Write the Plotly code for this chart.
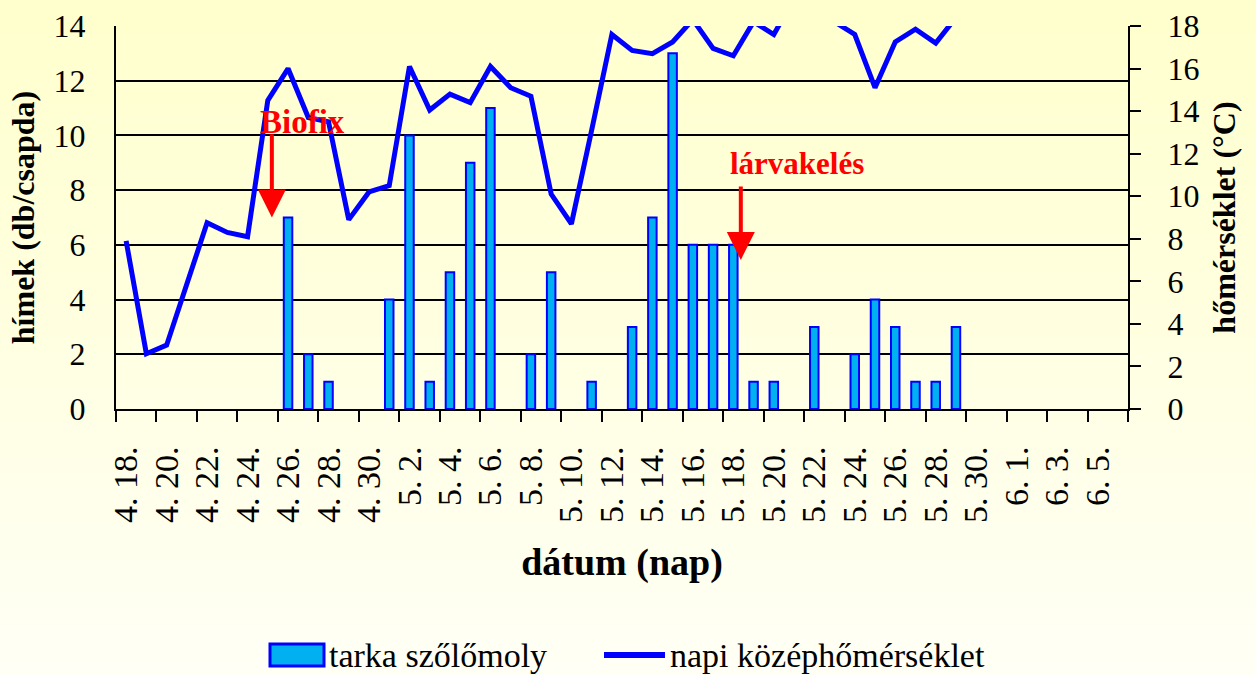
import pandas as pd
import plotly.graph_objects as go

# ---- data ----
dates = pd.date_range("2000-04-18", "2000-06-06", freq="D")
date_labels = [f"{d.month}. {d.day}." for d in dates]

# male moths per trap (tarka szőlőmoly), index-aligned to date_labels (None = no catch)
moth_counts = [None, None, None, None, None, None, None, None, 7, 2,
               1, None, None, 4, 10, 1, 5, 9, 11, None,
               2, 5, None, 1, None, 3, 7, 13, 6, 6,
               6, 1, 1, None, 3, None, 2, 4, 3, 1,
               1, 3, None, None, None, None, None, None, None, None]

# daily mean temperature (°C)
mean_temp = [7.9, 2.6, 3.0, 5.9, 8.75, 8.3, 8.1, 14.5, 16.0, 13.7,
             13.5, 8.9, 10.2, 10.5, 16.1, 14.05, 14.8, 14.4, 16.1, 15.1,
             14.7, 10.1, 8.7, 13.1, 17.6, 16.85, 16.7, 17.25, 18.3, 16.95,
             16.6, 18.2, 17.6, 19.3, 19.5, 18.2, 17.6, 15.1, 17.25, 17.85,
             17.2, 18.4, None, None, None, None, None, None, None, None]

series_names = ["tarka szőlőmoly", "napi középhőmérséklet"]

x_idx = list(range(len(date_labels)))
label_idx = x_idx[::2]
label_text = date_labels[::2]
tick_bounds = [i - 0.5 for i in x_idx[::2]] + [x_idx[-1] + 0.5]

FONT = "Liberation Serif, Times New Roman, serif"
BAR_FILL, BLUE, RED = "#00B0F0", "#0000FF", "#FF0000"

fig = go.Figure()
fig.add_trace(go.Bar(
    x=x_idx, y=moth_counts, name=series_names[0], width=0.42,
    marker=dict(color=BAR_FILL, line=dict(color=BLUE, width=2)),
    yaxis="y", showlegend=False,
))
fig.add_trace(go.Scatter(
    x=x_idx, y=mean_temp, name=series_names[1], mode="lines",
    line=dict(color=BLUE, width=5), yaxis="y2", connectgaps=False, showlegend=False,
))

# geometry (pixels)
W, H = 1256, 675
ml, mr, mt, mb = 116, 128, 26, 266
pw, ph = W - ml - mr, H - mt - mb


def px_x(p):
    return (p - ml) / pw


def px_y(p):
    return (H - mb - p) / ph


# background gradient bands
shapes = []
nb = 40
top_c, bot_c = (255, 255, 204), (255, 255, 246)
for k in range(nb):
    f = (k + 0.5) / nb
    c = tuple(round(top_c[j] + (bot_c[j] - top_c[j]) * f) for j in range(3))
    shapes.append(dict(
        type="rect", xref="paper", yref="paper", layer="below",
        x0=px_x(0), x1=px_x(W),
        y0=px_y((k + 1) * H / nb) - 0.001, y1=px_y(k * H / nb),
        fillcolor="rgb(%d,%d,%d)" % c, line=dict(width=0),
    ))

# legend (drawn manually to match the swatch sizes)
leg_y = 655
shapes.append(dict(type="rect", xref="paper", yref="paper", layer="above",
                   x0=px_x(270), x1=px_x(324), y0=px_y(666), y1=px_y(644),
                   fillcolor=BAR_FILL, line=dict(color=BLUE, width=3)))
shapes.append(dict(type="line", xref="paper", yref="paper", layer="above",
                   x0=px_x(604), x1=px_x(665), y0=px_y(leg_y), y1=px_y(leg_y),
                   line=dict(color=BLUE, width=6)))

annotations = [
    dict(x=px_x(327), y=px_y(leg_y), xref="paper", yref="paper", xanchor="left",
         yanchor="middle", text=series_names[0], showarrow=False,
         font=dict(family=FONT, size=34, color="black")),
    dict(x=px_x(668), y=px_y(leg_y), xref="paper", yref="paper", xanchor="left",
         yanchor="middle", text=series_names[1], showarrow=False,
         font=dict(family=FONT, size=34, color="black")),
    dict(x=7.2, y=7.0, xref="x", yref="y", ax=7.2, ay=10.1, axref="x", ayref="y",
         text="", showarrow=True, arrowhead=2, arrowsize=1.4, arrowwidth=4,
         arrowcolor=RED),
    dict(x=8.69, y=10.49, xref="x", yref="y", text="Biofix", showarrow=False,
         font=dict(family=FONT, size=33, color=RED, weight="bold")),
    dict(x=30.37, y=5.45, xref="x", yref="y", ax=30.37, ay=8.19, axref="x", ayref="y",
         text="", showarrow=True, arrowhead=2, arrowsize=1.4, arrowwidth=4,
         arrowcolor=RED),
    dict(x=33.15, y=8.99, xref="x", yref="y", text="lárvakelés", showarrow=False,
         font=dict(family=FONT, size=31, color=RED, weight="bold")),
]

fig.update_layout(
    width=W, height=H,
    margin=dict(l=ml, r=mr, t=mt, b=mb, autoexpand=False),
    paper_bgcolor="#FFFFE6", plot_bgcolor="rgba(0,0,0,0)",
    font=dict(family=FONT, size=32, color="black"),
    shapes=shapes,
    annotations=annotations,
    showlegend=False,
    xaxis=dict(
        range=[-0.5, len(x_idx) - 0.5], tickmode="array", automargin=False,
        tickvals=label_idx, ticktext=label_text, tickangle=-90,
        ticks="", showgrid=False, zeroline=False,
        showline=True, linecolor="black", linewidth=2,
        ticklabelstandoff=22,
        minor=dict(tickmode="array", tickvals=tick_bounds, ticks="outside",
                   ticklen=11, tickwidth=2, tickcolor="black", showgrid=False),
        tickfont=dict(family=FONT, size=34),
        title=dict(text="dátum (nap)", standoff=26,
                   font=dict(family=FONT, size=38, weight="bold")),
    ),
    yaxis=dict(
        range=[0, 14], dtick=2, tick0=0, showgrid=True, gridcolor="black", gridwidth=2,
        zeroline=False, showline=True, linecolor="black", linewidth=2, mirror=False,
        automargin=False,
        ticks="", tickfont=dict(family=FONT, size=32), ticklabelstandoff=22,
        title=dict(text="hímek (db/csapda)", standoff=9,
                   font=dict(family=FONT, size=32, weight="bold")),
    ),
    yaxis2=dict(
        range=[0, 18], dtick=2, tick0=0, overlaying="y", side="right",
        showgrid=False, zeroline=False, showline=True, linecolor="black", linewidth=2,
        automargin=False,
        ticks="outside", ticklen=11, tickwidth=2, tickcolor="black",
        ticklabelstandoff=20,
        tickfont=dict(family=FONT, size=32),
        title=dict(text="hőmérséklet (°C)", standoff=14,
                   font=dict(family=FONT, size=32, weight="bold")),
    ),
)

fig.write_html("out.html", config={"displayModeBar": False},
               post_script="document.body.style.margin='0px';document.body.style.overflow='hidden';")
